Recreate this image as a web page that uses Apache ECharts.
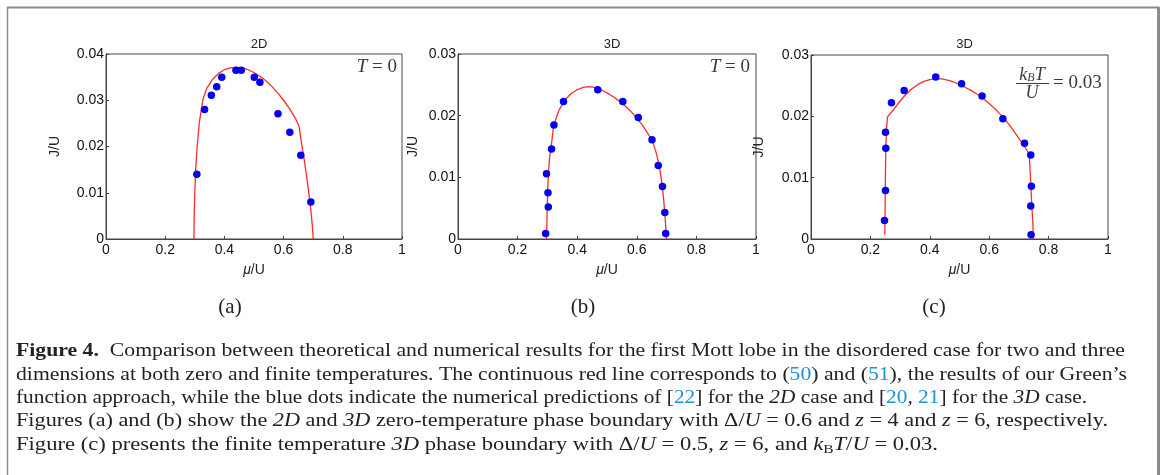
<!DOCTYPE html>
<html><head><meta charset="utf-8">
<script src="https://cdn.jsdelivr.net/npm/echarts@6/dist/echarts.min.js"></script>
<style>html,body{margin:0;padding:0;background:#fff}#c{width:1163px;height:475px}</style>
</head><body><div id="c"></div>
<script>
// ---------- data ----------
const panelTitles = ['2D', '3D', '3D'];
const panelLabels = ['(a)', '(b)', '(c)'];
const xTickLabels = ['0', '0.2', '0.4', '0.6', '0.8', '1'];
const yTickLabels2D = ['0', '0.01', '0.02', '0.03', '0.04'];
const yTickLabels3D = ['0', '0.01', '0.02', '0.03'];

// (a) 2D, T = 0 : Green's function result (red line)
const lineA = [[0.297,0],[0.298,0.005],[0.300,0.010],[0.303,0.015],[0.308,0.020],[0.315,0.025],[0.322,0.028],[0.328,0.0303],
  [0.34,0.0325],[0.36,0.0345],[0.38,0.0358],[0.40,0.0366],[0.42,0.0370],[0.44,0.0371],[0.46,0.0370],[0.48,0.0366],
  [0.50,0.0360],[0.52,0.0352],[0.54,0.0342],[0.56,0.0330],[0.58,0.0316],[0.60,0.0300],[0.62,0.0282],[0.64,0.0261],
  [0.652,0.0244],[0.66,0.0210],[0.67,0.0170],[0.68,0.0125],[0.69,0.0075],[0.697,0.003],[0.700,0]];
// (a) numerical dots
const dotsA = [[0.307,0.0140],[0.333,0.0280],[0.356,0.0311],[0.374,0.0329],[0.391,0.0350],[0.439,0.0365],[0.457,0.0365],
  [0.501,0.0350],[0.520,0.0339],[0.581,0.0271],[0.621,0.0231],[0.658,0.0181],[0.692,0.0080]];

// (b) 3D, T = 0
const lineB = [[0.297,0],[0.299,0.004],[0.301,0.008],[0.304,0.011],[0.308,0.0135],[0.314,0.0155],[0.320,0.0180],[0.33,0.0197],
  [0.34,0.0210],[0.36,0.0226],[0.38,0.0236],[0.40,0.0242],[0.42,0.0246],[0.44,0.0247],[0.46,0.0246],[0.48,0.0242],
  [0.50,0.0237],[0.52,0.0231],[0.54,0.0224],[0.56,0.0216],[0.58,0.0207],[0.60,0.0196],[0.62,0.0184],[0.64,0.0169],
  [0.655,0.0155],[0.665,0.0140],[0.675,0.0120],[0.683,0.0095],[0.690,0.0065],[0.695,0.0035],[0.700,0]];
const dotsB = [[0.294,0.0009],[0.303,0.0052],[0.302,0.0075],[0.297,0.0106],[0.314,0.0146],[0.322,0.0185],[0.354,0.0223],
  [0.469,0.0242],[0.553,0.0223],[0.605,0.0197],[0.651,0.0161],[0.672,0.0119],[0.686,0.0085],[0.694,0.0043],[0.697,0.0009]];

// (c) 3D, kBT/U = 0.03
const lineC = [[0.2486,0.0007],[0.2495,0.005],[0.2505,0.010],[0.2520,0.015],[0.2545,0.018],[0.2576,0.0199],[0.28,0.0212],
  [0.30,0.0225],[0.32,0.0236],[0.34,0.0245],[0.36,0.0252],[0.38,0.0257],[0.40,0.0260],[0.42,0.0261],[0.44,0.0261],
  [0.46,0.0259],[0.48,0.0256],[0.50,0.0252],[0.52,0.0247],[0.54,0.0242],[0.56,0.0236],[0.58,0.0229],[0.60,0.0221],
  [0.62,0.0212],[0.64,0.0202],[0.66,0.0191],[0.68,0.0178],[0.70,0.0164],[0.72,0.0150],[0.7346,0.0139],[0.738,0.011],
  [0.741,0.008],[0.744,0.005],[0.747,0.0025],[0.749,0]];
const dotsC = [[0.2475,0.0030],[0.2508,0.0079],[0.252,0.0148],[0.2508,0.0174],[0.271,0.0222],[0.3135,0.0242],[0.420,0.0264],
  [0.507,0.0253],[0.576,0.0233],[0.646,0.0196],[0.719,0.0156],[0.740,0.0137],[0.742,0.0086],[0.740,0.0054],[0.741,0.0007]];

// caption lines: [style, text]
const captionLines = [
  [['b','Figure 4.'],['n','  Comparison between theoretical and numerical results for the first Mott lobe in the disordered case for two and three']],
  [['n','dimensions at both zero and finite temperatures. The continuous red line corresponds to ('],['c','50'],['n',') and ('],['c','51'],['n','), the results of our Green\u2019s']],
  [['n','function approach, while the blue dots indicate the numerical predictions of ['],['c','22'],['n','] for the '],['i','2D'],['n',' case and ['],['c','20'],['n',', '],['c','21'],['n','] for the '],['i','3D'],['n',' case.']],
  [['n','Figures (a) and (b) show the '],['i','2D'],['n',' and '],['i','3D'],['n',' zero-temperature phase boundary with \u0394/'],['i','U'],['n',' = 0.6 and '],['i','z'],['n',' = 4 and '],['i','z'],['n',' = 6, respectively.']],
  [['n','Figure (c) presents the finite temperature '],['i','3D'],['n',' phase boundary with \u0394/'],['i','U'],['n',' = 0.5, '],['i','z'],['n',' = 6, and '],['i','k'],['s','B'],['i','T'],['n','/'],['i','U'],['n',' = 0.03.']]
];

// ---------- layout ----------
const grids = [
  {left:106, top:54, width:296, height:185},
  {left:458, top:54, width:298, height:185},
  {left:811, top:55, width:297, height:184}
];
const yNameGaps = [44, 38, 45];
const capWidths = [1109, 1111, 1071, 1092, 922];
const capX = 16, capY0 = 351.5, capStep = 23.3;
const sans = '"Liberation Sans", Arial, sans-serif';
const serif = '"Liberation Serif", "Times New Roman", serif';
const frameColor = '#444';

const yMaxes = [0.04, 0.03, 0.03];
const yLabelSets = [yTickLabels2D, yTickLabels3D, yTickLabels3D];
const lines = [lineA, lineB, lineC];
const dots = [dotsA, dotsB, dotsC];

const chart = echarts.init(document.getElementById('c'), null, {renderer:'canvas'});

const xAxes = grids.map((g, i) => ({
  gridIndex: i, type: 'value', min: 0, max: 1, interval: 0.2,
  name: '{i|\u03bc}/U', nameLocation: 'middle', nameGap: 24,
  nameTextStyle: {fontFamily: sans, fontSize: 14, color: '#222',
    rich: {i: {fontStyle: 'italic', fontFamily: sans, fontSize: 14, color: '#222'}}},
  axisLine: {show: true, lineStyle: {color: frameColor, width: 1}},
  axisTick: {show: true, inside: true, length: 3, lineStyle: {color: frameColor}},
  splitLine: {show: false},
  axisLabel: {fontFamily: sans, fontSize: 14, color: '#111', margin: 4,
    formatter: v => xTickLabels[Math.round(v / 0.2)]}
}));
const yAxes = grids.map((g, i) => ({
  gridIndex: i, type: 'value', min: 0, max: yMaxes[i], interval: 0.01,
  name: 'J/U', nameLocation: 'middle', nameGap: yNameGaps[i],
  nameTextStyle: {fontFamily: sans, fontSize: 14, color: '#222'},
  axisLine: {show: true, lineStyle: {color: frameColor, width: 1}},
  axisTick: {show: true, inside: true, length: 3, lineStyle: {color: frameColor}},
  splitLine: {show: false},
  axisLabel: {fontFamily: sans, fontSize: 14, color: '#111', margin: 2,
    formatter: v => yLabelSets[i][Math.round(v / 0.01)]}
}));

const series = [];
lines.forEach((d, i) => series.push({
  type: 'line', xAxisIndex: i, yAxisIndex: i, data: d, showSymbol: false, smooth: false,
  lineStyle: {color: '#ff2b2b', width: 1.3}, silent: true, z: 2
}));
dots.forEach((d, i) => series.push({
  type: 'scatter', xAxisIndex: i, yAxisIndex: i, data: d, symbolSize: 7.5,
  itemStyle: {color: '#0000f0', opacity: 1}, silent: true, z: 3
}));

// caption measurement
const mctx = document.createElement('canvas').getContext('2d');
const capSize = 19;
const fontFor = k => ({
  n: `${capSize}px ${serif}`, c: `${capSize}px ${serif}`,
  b: `bold ${capSize}px ${serif}`, i: `italic ${capSize}px ${serif}`,
  s: `13px ${serif}`
})[k];
const capRich = {
  n: {fontFamily: serif, fontSize: capSize, fill: '#222', color: '#222', lineHeight: 22},
  c: {fontFamily: serif, fontSize: capSize, fill: '#1a93d6', color: '#1a93d6', lineHeight: 22},
  b: {fontFamily: serif, fontSize: capSize, fontWeight: 'bold', fill: '#222', color: '#222', lineHeight: 22},
  i: {fontFamily: serif, fontSize: capSize, fontStyle: 'italic', fill: '#222', color: '#222', lineHeight: 22},
  s: {fontFamily: serif, fontSize: 13, fill: '#222', color: '#222', lineHeight: 12, verticalAlign: 'bottom'}
};

const graphics = [];
// outer box (open at bottom)
graphics.push({type: 'line', shape: {x1: 7, y1: 7.5, x2: 1159, y2: 7.5}, style: {stroke: '#8c8c8c', lineWidth: 2}, silent: true});
graphics.push({type: 'line', shape: {x1: 7.5, y1: 7, x2: 7.5, y2: 475}, style: {stroke: '#8c8c8c', lineWidth: 1.5}, silent: true});
graphics.push({type: 'line', shape: {x1: 1158.5, y1: 7, x2: 1158.5, y2: 475}, style: {stroke: '#8c8c8c', lineWidth: 3}, silent: true});

captionLines.forEach((segs, li) => {
  let w = 0;
  segs.forEach(([k, t]) => { mctx.font = fontFor(k); w += mctx.measureText(t).width; });
  const sx = capWidths[li] / w;
  graphics.push({
    type: 'text', x: capX, y: capY0 + capStep * li, scaleX: sx, silent: true,
    style: {text: segs.map(([k, t]) => `{${k}|${t}}`).join(''), rich: capRich,
      fontFamily: serif, fontSize: capSize, fill: '#222', verticalAlign: 'middle', align: 'left'}
  });
});

// sub-figure labels
const subX = [230, 583, 934];
panelLabels.forEach((t, i) => graphics.push({
  type: 'text', x: subX[i], y: 307, silent: true,
  style: {text: t, fontFamily: serif, fontSize: 21, fill: '#222', align: 'center', verticalAlign: 'middle'}
}));

// T = 0 annotations
const annRich = {i: {fontFamily: serif, fontSize: 19, fontStyle: 'italic', fill: '#3a3a3a'},
                 n: {fontFamily: serif, fontSize: 19, fill: '#3a3a3a'}};
[397, 750].forEach(x => graphics.push({
  type: 'text', x: x, y: 67, silent: true,
  style: {text: '{i|T}{n| = 0}', rich: annRich, fontSize: 19, align: 'right', verticalAlign: 'middle'}
}));
// kBT/U = 0.03 fraction
graphics.push({type: 'text', x: 1032, y: 75, silent: true,
  style: {text: '{i|k}{s|B}{i|T}', rich: {
    i: {fontFamily: serif, fontSize: 18, fontStyle: 'italic', fill: '#3a3a3a', lineHeight: 18},
    s: {fontFamily: serif, fontSize: 12, fontStyle: 'italic', fill: '#3a3a3a', lineHeight: 10, verticalAlign: 'bottom'}},
    align: 'center', verticalAlign: 'middle'}});
graphics.push({type: 'line', shape: {x1: 1016, y1: 83.5, x2: 1049, y2: 83.5}, style: {stroke: '#3a3a3a', lineWidth: 1}, silent: true});
graphics.push({type: 'text', x: 1032, y: 93, silent: true,
  style: {text: 'U', fontFamily: serif, fontSize: 18, fontStyle: 'italic', fill: '#3a3a3a', align: 'center', verticalAlign: 'middle'}});
graphics.push({type: 'text', x: 1053, y: 83, silent: true,
  style: {text: '= 0.03', fontFamily: serif, fontSize: 19, fill: '#3a3a3a', align: 'left', verticalAlign: 'middle'}});

const titles = grids.map((g, i) => ({
  text: panelTitles[i], left: g.left + g.width / 2, top: 33, textAlign: 'center',
  textStyle: {fontFamily: sans, fontSize: 13, fontWeight: 'normal', color: '#222'}
}));

chart.setOption({
  animation: false,
  backgroundColor: '#fff',
  title: titles,
  grid: grids.map(g => Object.assign({show: true, borderColor: frameColor, borderWidth: 1, backgroundColor: 'transparent'}, g)),
  xAxis: xAxes,
  yAxis: yAxes,
  series: series,
  graphic: graphics
});
</script></body></html>
